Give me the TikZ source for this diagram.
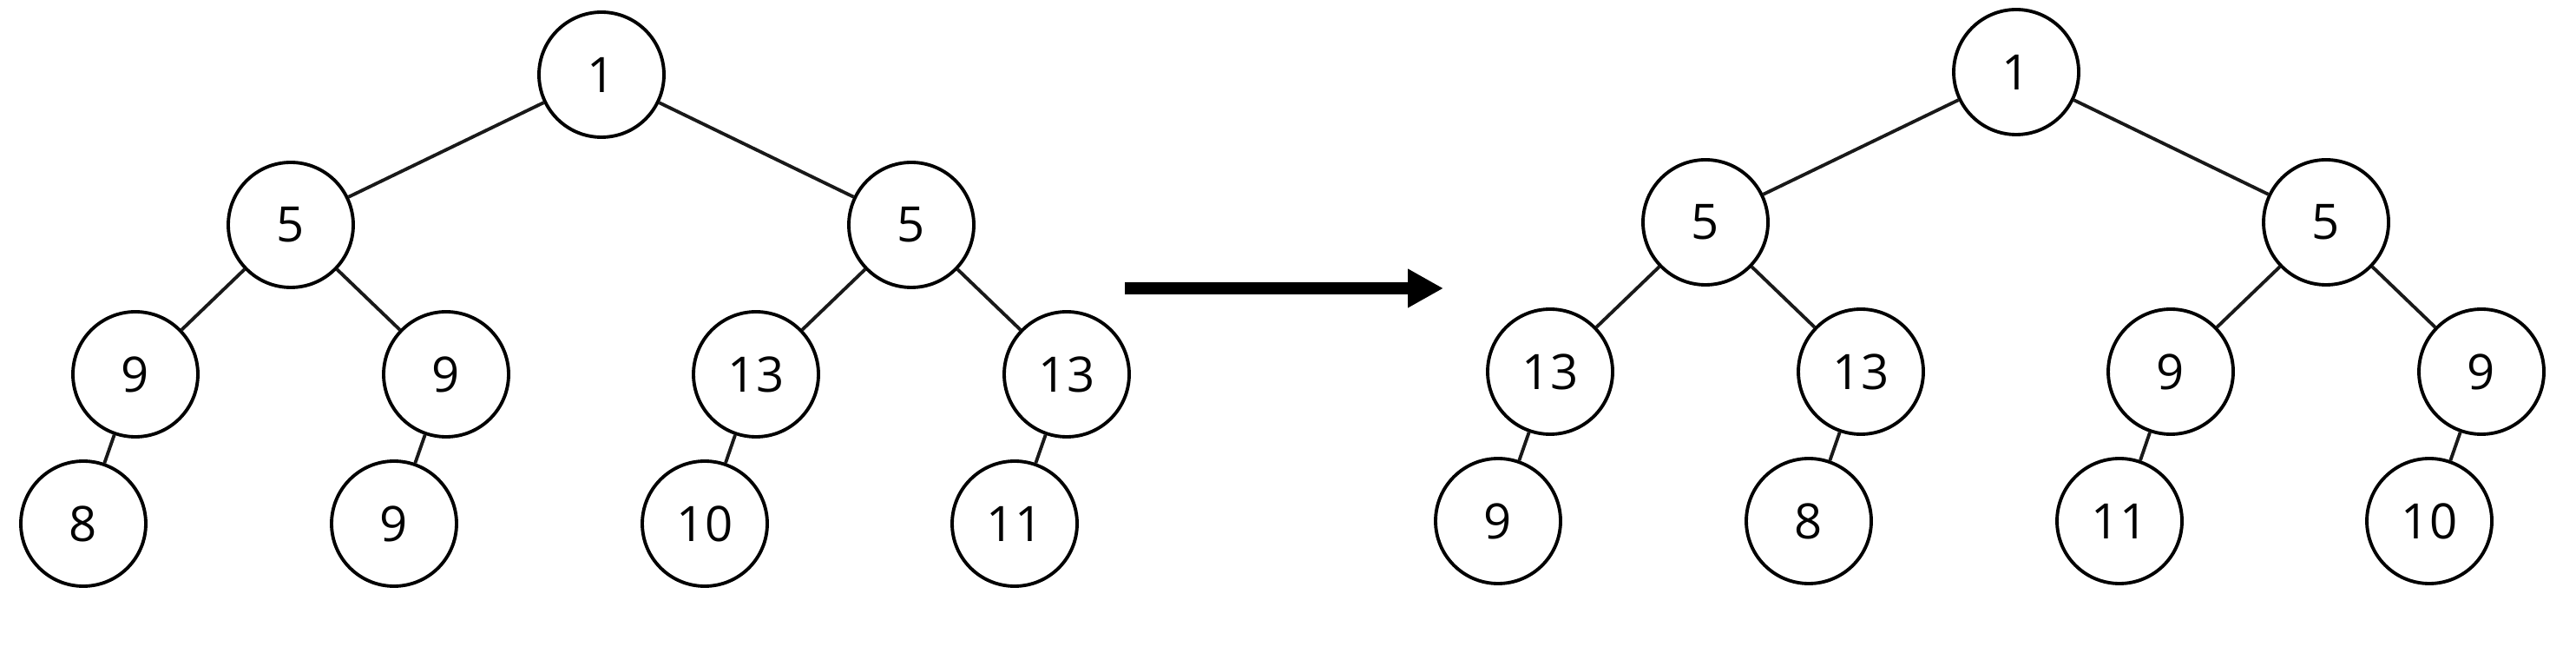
\documentclass[tikz,border=0pt]{standalone}
\usepackage{fontspec}
\setmainfont{Open Sans}
\usepackage{tikz}
\usetikzlibrary{arrows.meta, positioning, calc}

\begin{document}
\begin{tikzpicture}[
    >={Triangle[length=4.1mm, width=4.2mm]},
    heapnode/.style={draw, circle, fill=white, minimum size=1.44cm, inner sep=0pt, line width=1.1pt, font=\fontsize{16}{19}\selectfont},
    link/.style={line width=1.1pt, black!90},
    swaparrow/.style={->, line width=1.4mm, black}
]
    \useasboundingbox (0,0) rectangle (29.68,-7.6);

    \pgfmathsetmacro{\shiftright}{16.30}

    % before swapping
    \node[heapnode] (A1)  at (6.93, -0.86) {1};
    \node[heapnode] (A2)  at (3.35, -2.59) {5};
    \node[heapnode] (A3)  at (10.50,-2.59) {5};
    \node[heapnode] (A4)  at (1.56, -4.31) {9};
    \node[heapnode] (A5)  at (5.14, -4.31) {9};
    \node[heapnode] (A6)  at (8.71, -4.31) {13};
    \node[heapnode] (A7)  at (12.29,-4.31) {13};
    \node[heapnode] (A8)  at (0.96, -6.03) {8};
    \node[heapnode] (A9)  at (4.54, -6.03) {9};
    \node[heapnode] (A10) at (8.12, -6.03) {10};
    \node[heapnode] (A11) at (11.69,-6.03) {11};

    % after swapping
    \node[heapnode] (B1)  at (6.93+\shiftright, -0.83) {1};
    \node[heapnode] (B2)  at (3.35+\shiftright, -2.56) {5};
    \node[heapnode] (B3)  at (10.50+\shiftright,-2.56) {5};
    \node[heapnode] (B4)  at (1.56+\shiftright, -4.28) {13};
    \node[heapnode] (B5)  at (5.14+\shiftright, -4.28) {13};
    \node[heapnode] (B6)  at (8.71+\shiftright, -4.28) {9};
    \node[heapnode] (B7)  at (12.29+\shiftright,-4.28) {9};
    \node[heapnode] (B8)  at (0.96+\shiftright, -6.00) {9};
    \node[heapnode] (B9)  at (4.54+\shiftright, -6.00) {8};
    \node[heapnode] (B10) at (8.12+\shiftright, -6.00) {11};
    \node[heapnode] (B11) at (11.69+\shiftright,-6.00) {10};

    \coordinate (ArrS) at (12.96, -3.32);
    \coordinate (ArrE) at (16.63, -3.32);

    \draw[link] (A1) -- (A2);
    \draw[link] (A1) -- (A3);
    \draw[link] (A2) -- (A4);
    \draw[link] (A2) -- (A5);
    \draw[link] (A3) -- (A6);
    \draw[link] (A3) -- (A7);
    \draw[link] (A4) -- (A8);
    \draw[link] (A5) -- (A9);
    \draw[link] (A6) -- (A10);
    \draw[link] (A7) -- (A11);

    \draw[link] (B1) -- (B2);
    \draw[link] (B1) -- (B3);
    \draw[link] (B2) -- (B4);
    \draw[link] (B2) -- (B5);
    \draw[link] (B3) -- (B6);
    \draw[link] (B3) -- (B7);
    \draw[link] (B4) -- (B8);
    \draw[link] (B5) -- (B9);
    \draw[link] (B6) -- (B10);
    \draw[link] (B7) -- (B11);

    \draw[swaparrow] (ArrS) -- (ArrE);

\end{tikzpicture}
\end{document}
